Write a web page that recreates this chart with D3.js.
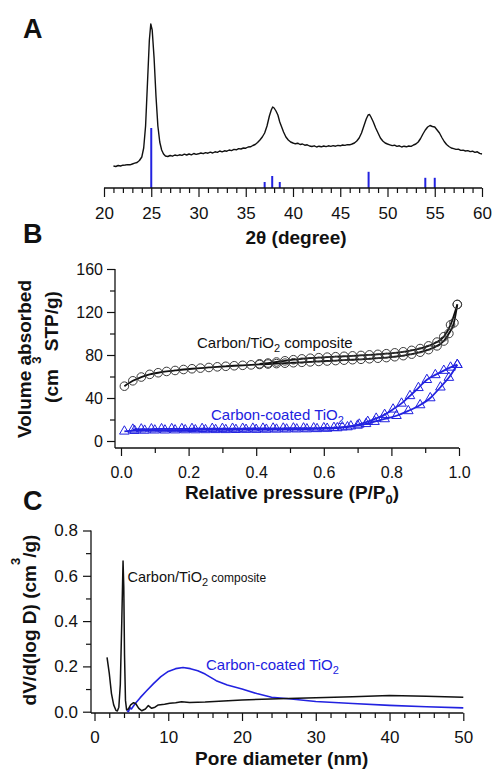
<!DOCTYPE html>
<html><head><meta charset="utf-8">
<script src="https://cdn.jsdelivr.net/npm/d3@7"></script>
<style>
html,body{margin:0;padding:0;background:#fff;}
svg{display:block;}
</style></head><body>
<svg id="chart" width="493" height="772"></svg>
<script>
// ---------- Panel A: XRD ----------
const xrdTheta = [21.00,21.25,21.50,21.75,22.00,22.25,22.50,22.75,23.00,23.25,23.50,23.75,24.00,24.20,24.40,24.60,24.80,24.95,25.10,25.30,25.50,25.70,25.90,26.10,26.30,26.50,26.75,27.00,27.25,27.50,27.75,28.00,28.25,28.50,28.75,29.00,29.25,29.50,29.75,30.00,30.25,30.50,30.75,31.00,31.25,31.50,31.75,32.00,32.25,32.50,32.75,33.00,33.25,33.50,33.75,34.00,34.25,34.50,34.75,35.00,35.25,35.50,35.75,36.00,36.25,36.50,36.75,37.00,37.25,37.50,37.70,37.85,38.00,38.20,38.40,38.60,38.80,39.00,39.25,39.50,39.75,40.00,40.25,40.50,40.75,41.00,41.25,41.50,41.75,42.00,42.25,42.50,42.75,43.00,43.25,43.50,43.75,44.00,44.25,44.50,44.75,45.00,45.25,45.50,45.75,46.00,46.25,46.50,46.75,47.00,47.25,47.50,47.75,47.95,48.10,48.25,48.50,48.75,49.00,49.25,49.50,49.75,50.00,50.25,50.50,50.75,51.00,51.25,51.50,51.75,52.00,52.25,52.50,52.75,53.00,53.25,53.50,53.75,54.00,54.25,54.50,54.75,55.00,55.25,55.50,55.75,56.00,56.25,56.50,56.75,57.00,57.25,57.50,57.75,58.00,58.25,58.50,58.75,59.00,59.25,59.50,59.75,60.00];
const xrdIntensity = [22,21.5,22.5,22,22.8,23,23.4,23.2,24,24.8,25.5,27.5,31,40,62,105,148,164,158,130,92,62,46,38,34,32,31.5,32.5,31.8,33,32.4,33.2,32.6,33.8,33,34,33.2,34.5,33.6,34.2,35,34.3,35.4,34.8,35.8,35,36.2,35.6,37,36.2,37.2,36.8,38,37.4,38.6,38.2,39.4,39,40,39.8,41,41.2,42.5,43.5,45.5,48,51,55,62,72,78,81,80,77,73,66,61,56,51,48,46,45,44.2,44.8,43.5,44,42.8,43.2,42,41.5,42.2,41,41.8,41.2,42,41.4,42.2,41.6,42.4,41.8,42.6,42.2,43,42.6,43.4,43.2,44,45,47,50,55,62,69,73,73.5,71,66,60,55,50,47,45,44,43.2,42.4,42.8,41.6,42.2,41,41.8,41.2,42,41.6,43,44,46,49.5,54,58,61,62.5,61.5,61,58,55,50.5,46.5,43.5,41.5,40,39.4,38.6,38.8,37.6,37.8,37,37.4,36.4,36.8,35.6,36.2,34.6,34];
const stickTheta = [25.0,37.0,37.8,38.6,48.0,54.0,55.0];
const stickRel = [100,10,20,10,27,17,17];
const xrdTicks = [20,25,30,35,40,45,50,55,60];

// ---------- Panel B: N2 isotherms ----------
const compAdsP = [0.010,0.035,0.060,0.085,0.110,0.135,0.160,0.185,0.210,0.235,0.260,0.285,0.310,0.335,0.360,0.385,0.410,0.435,0.460,0.485,0.510,0.535,0.560,0.585,0.610,0.635,0.660,0.685,0.710,0.735,0.760,0.785,0.810,0.835,0.860,0.885,0.910,0.935,0.955,0.970,0.985,0.995];
const compAdsV = [51,56,59.5,62,63.5,64.7,65.6,66.5,67.2,67.8,68.4,69,69.5,70,70.4,70.8,71.2,71.6,72,72.4,72.8,73.2,73.6,74,74.4,74.8,75.2,75.6,76,76.5,77,77.6,78.4,79.4,80.8,82.6,85,88.5,93,100,110,127];
const compDesP = [0.995,0.975,0.955,0.935,0.910,0.885,0.860,0.835,0.810,0.785,0.760,0.735,0.710,0.685,0.660,0.635,0.610,0.585,0.560,0.535,0.510,0.485,0.460,0.435,0.410];
const compDesV = [127,108,97,92,88.5,86,84.3,83,82,81.2,80.6,80.1,79.6,79.2,78.8,78.4,78,77.5,77,76.4,75.6,74.6,73.5,72.5,71.8];
const coatAdsP = [0.010,0.040,0.070,0.100,0.130,0.160,0.190,0.220,0.250,0.280,0.310,0.340,0.370,0.400,0.430,0.460,0.490,0.520,0.550,0.580,0.610,0.640,0.670,0.700,0.725,0.750,0.780,0.815,0.850,0.885,0.915,0.945,0.970,0.995];
const coatAdsV = [9,9.6,9.8,10,10,10.1,10.2,10.2,10.3,10.4,10.4,10.5,10.6,10.6,10.7,10.8,10.9,11,11.1,11.3,11.6,12.1,13,14.5,16,18,20.5,23.5,28,33.5,40,50,59,71];
const coatDesP = [0.995,0.975,0.955,0.930,0.905,0.880,0.855,0.830,0.805,0.780,0.755,0.730,0.705,0.680,0.655,0.630,0.600,0.570,0.540,0.510,0.480,0.450,0.420,0.390,0.360,0.330,0.300,0.270,0.240,0.210,0.180,0.150,0.120,0.090,0.060,0.035];
const coatDesV = [71,68.5,65.5,61.5,57,49.5,42,35,29.5,24.5,21,18,15.5,13.8,12.9,12.4,12.1,12,11.9,11.9,11.8,11.8,11.7,11.7,11.6,11.6,11.5,11.5,11.4,11.4,11.3,11.3,11.2,11.1,11,10.8];
const bxTicks = [0,0.2,0.4,0.6,0.8,1.0];
const byTicks = [0,40,80,120,160];

// ---------- Panel C: pore size distribution ----------
const psdCompD = [1.7,2.0,2.3,2.6,2.9,3.1,3.3,3.5,3.7,3.87,3.97,4.07,4.2,4.35,4.6,4.9,5.3,5.6,6.0,6.4,6.9,7.3,7.75,8.2,8.65,9.5,10.2,11.0,11.8,12.9,15,20,25,30,35,40,45,50];
const psdCompV = [0.24,0.17,0.08,0.03,0.006,0.003,0.02,0.12,0.40,0.665,0.55,0.25,0.05,0.008,0.012,0.03,0.04,0.035,0.015,0.004,0.012,0.027,0.015,0.02,0.03,0.033,0.037,0.04,0.044,0.041,0.043,0.052,0.057,0.062,0.066,0.072,0.068,0.064];
const psdCoatD = [4.4,4.6,4.8,5.0,5.5,6.2,7.0,8.0,9.0,10.0,11.0,12.0,13.0,14.0,15.0,16.5,18.0,20.0,22.0,24.0,26.0,28.0,30.0,35.0,40.0,45.0,50.0];
const psdCoatV = [0.005,0.0,0.018,0.012,0.035,0.062,0.09,0.124,0.155,0.178,0.19,0.195,0.19,0.181,0.166,0.137,0.118,0.1,0.08,0.064,0.058,0.052,0.045,0.036,0.028,0.022,0.017];
const cxTicks = [0,10,20,30,40,50];
const cyTicks = [0,0.2,0.4,0.6,0.8];

// ---------- drawing ----------
const FONT = "'Liberation Sans', Arial, Helvetica, sans-serif";
const INK = "#111";
const BLUE = "#2222e0";
const svg = d3.select("#chart").attr("font-family", FONT);

function styleAxis(g, fs) {
  g.attr("font-family", FONT).attr("font-size", fs);
  g.select(".domain").remove();
  g.selectAll(".tick line").attr("stroke", INK).attr("stroke-width", 1.2);
  g.selectAll(".tick text").attr("fill", INK);
}
function hline(x1, x2, y) {
  svg.append("line").attr("x1", x1).attr("x2", x2).attr("y1", y).attr("y2", y)
    .attr("stroke", INK).attr("stroke-width", 1.3);
}
function vline(x, y1, y2) {
  svg.append("line").attr("x1", x).attr("x2", x).attr("y1", y1).attr("y2", y2)
    .attr("stroke", INK).attr("stroke-width", 1.3);
}
function letter(t, x, y) {
  svg.append("text").attr("x", x).attr("y", y).attr("font-size", 27)
    .attr("font-weight", "bold").attr("fill", INK).text(t);
}

// Panel A
const xA = d3.scaleLinear().domain([20, 60]).range([104, 482]);
const yA = d3.scaleLinear().domain([0, 170]).range([188, 18]);
const yS = d3.scaleLinear().domain([0, 100]).range([188, 128]);
const gA = svg.append("g");
gA.selectAll("line.stick").data(stickTheta).join("line").attr("class", "stick")
  .attr("x1", d => xA(d)).attr("x2", d => xA(d))
  .attr("y1", yS(0)).attr("y2", (d, i) => yS(stickRel[i]))
  .attr("stroke", BLUE).attr("stroke-width", 2);
gA.append("path").datum(d3.zip(xrdTheta, xrdIntensity))
  .attr("d", d3.line().x(d => xA(d[0])).y(d => yA(d[1])))
  .attr("fill", "none").attr("stroke", INK).attr("stroke-width", 1.4).attr("stroke-linejoin", "round");
hline(104, 482, 188);
svg.append("g").attr("transform", "translate(0,188)")
  .call(d3.axisBottom(xA).tickValues(d3.range(20, 61, 1).filter(v => v % 5 !== 0)).tickSize(5).tickFormat(""))
  .call(g => styleAxis(g, 17));
svg.append("g").attr("transform", "translate(0,188)")
  .call(d3.axisBottom(xA).tickValues(xrdTicks).tickSize(9).tickPadding(10).tickFormat(d3.format("d")))
  .call(g => styleAxis(g, 17));
svg.append("text").attr("x", 296).attr("y", 244).attr("text-anchor", "middle")
  .attr("font-size", 19).attr("font-weight", "bold").attr("fill", INK).text("2θ (degree)");
letter("A", 23, 38);

// Panel B
const xB = d3.scaleLinear().domain([0, 1]).range([121, 459]);
const yB = d3.scaleLinear().domain([0, 160]).range([441, 269]);
hline(115, 459, 448);
vline(115, 269, 448);
svg.append("g").attr("transform", "translate(0,448)")
  .call(d3.axisBottom(xB).tickValues([0.1, 0.3, 0.5, 0.7, 0.9]).tickSize(5).tickFormat(""))
  .call(g => styleAxis(g, 16));
svg.append("g").attr("transform", "translate(0,448)")
  .call(d3.axisBottom(xB).tickValues(bxTicks).tickSize(8).tickPadding(10.5).tickFormat(d3.format(".1f")))
  .call(g => styleAxis(g, 16));
svg.append("g").attr("transform", "translate(115,0)")
  .call(d3.axisLeft(yB).tickValues([20, 60, 100, 140]).tickSize(5).tickFormat(""))
  .call(g => styleAxis(g, 16));
svg.append("g").attr("transform", "translate(115,0)")
  .call(d3.axisLeft(yB).tickValues(byTicks).tickSize(8).tickPadding(4).tickFormat(d3.format("d")))
  .call(g => styleAxis(g, 16));

const lineB = d3.line().x(d => xB(d[0])).y(d => yB(d[1])).curve(d3.curveMonotoneX);
const compAds = d3.zip(compAdsP, compAdsV), compDes = d3.zip(compDesP, compDesV);
const coatAds = d3.zip(coatAdsP, coatAdsV), coatDes = d3.zip(coatDesP, coatDesV);
const gB = svg.append("g");
[coatAds, coatDes].forEach(s => {
  gB.append("path").datum(s.slice().sort((a, b) => a[0] - b[0])).attr("d", lineB)
    .attr("fill", "none").attr("stroke", BLUE).attr("stroke-width", 1.8);
});
const tri = d3.symbol(d3.symbolTriangle).size(40)();
gB.selectAll("path.tri").data(coatAds.concat(coatDes)).join("path").attr("class", "tri")
  .attr("d", tri).attr("transform", d => `translate(${xB(d[0])},${yB(d[1])})`)
  .attr("fill", "none").attr("stroke", BLUE).attr("stroke-width", 1);
[compAds, compDes].forEach(s => {
  gB.append("path").datum(s.slice().sort((a, b) => a[0] - b[0])).attr("d", lineB)
    .attr("fill", "none").attr("stroke", INK).attr("stroke-width", 1.8);
});
gB.selectAll("circle.c").data(compAds.concat(compDes)).join("circle").attr("class", "c")
  .attr("cx", d => xB(d[0])).attr("cy", d => yB(d[1])).attr("r", 4.3)
  .attr("fill", "none").attr("stroke", "#3a3a3a").attr("stroke-width", 1);

// labels B
const tB1 = svg.append("text").attr("x", 197).attr("y", 348).attr("font-size", 15).attr("fill", INK);
tB1.append("tspan").text("Carbon/TiO");
tB1.append("tspan").attr("font-size", 11).attr("dy", 4).text("2");
tB1.append("tspan").attr("dy", -4).text(" composite");
const tB2 = svg.append("text").attr("x", 211).attr("y", 420).attr("font-size", 15).attr("fill", BLUE);
tB2.append("tspan").text("Carbon-coated TiO");
tB2.append("tspan").attr("font-size", 11).attr("dy", 4).text("2");

svg.append("text").attr("transform", "translate(31,359) rotate(-90)").attr("text-anchor", "middle")
  .attr("font-size", 19).attr("font-weight", "bold").attr("fill", INK).text("Volume absorbed");
const yt2 = svg.append("text").attr("transform", "translate(58,347) rotate(-90)").attr("text-anchor", "middle")
  .attr("font-size", 19).attr("font-weight", "bold").attr("fill", INK);
yt2.append("tspan").text("(cm ");
yt2.append("tspan").attr("font-size", 13).attr("dy", -17).text("3");
yt2.append("tspan").attr("dy", 17).text(" STP/g)");

const xtB = svg.append("text").attr("x", 292).attr("y", 499).attr("text-anchor", "middle")
  .attr("font-size", 19).attr("font-weight", "bold").attr("fill", INK);
xtB.append("tspan").text("Relative pressure (P/P");
xtB.append("tspan").attr("font-size", 13).attr("dy", 5).text("0");
xtB.append("tspan").attr("dy", -5).text(")");
letter("B", 23, 243);

// Panel C
const xC = d3.scaleLinear().domain([0, 50]).range([94.5, 463.3]);
const yC = d3.scaleLinear().domain([0, 0.8]).range([711.7, 530.5]);
hline(91, 463.3, 713);
vline(91, 530.5, 713);
svg.append("g").attr("transform", "translate(0,713)")
  .call(d3.axisBottom(xC).tickValues(d3.range(2, 50, 2).filter(v => v % 10 !== 0)).tickSize(5).tickFormat(""))
  .call(g => styleAxis(g, 17));
svg.append("g").attr("transform", "translate(0,713)")
  .call(d3.axisBottom(xC).tickValues(cxTicks).tickSize(8).tickPadding(9.5).tickFormat(d3.format("d")))
  .call(g => styleAxis(g, 17));
svg.append("g").attr("transform", "translate(91,0)")
  .call(d3.axisLeft(yC).tickValues([0.1, 0.3, 0.5, 0.7]).tickSize(5).tickFormat(""))
  .call(g => styleAxis(g, 17));
svg.append("g").attr("transform", "translate(91,0)")
  .call(d3.axisLeft(yC).tickValues(cyTicks).tickSize(8).tickPadding(5).tickFormat(d3.format(".1f")))
  .call(g => styleAxis(g, 17));

const lineC = d3.line().x(d => xC(d[0])).y(d => yC(d[1]));
svg.append("path").datum(d3.zip(psdCoatD, psdCoatV)).attr("d", lineC)
  .attr("fill", "none").attr("stroke", BLUE).attr("stroke-width", 1.6).attr("stroke-linejoin", "round");
svg.append("path").datum(d3.zip(psdCompD, psdCompV)).attr("d", lineC)
  .attr("fill", "none").attr("stroke", INK).attr("stroke-width", 1.5).attr("stroke-linejoin", "round");

const tC1 = svg.append("text").attr("x", 127.5).attr("y", 582).attr("font-size", 14.5).attr("fill", INK);
tC1.append("tspan").text("Carbon/TiO");
tC1.append("tspan").attr("font-size", 11).attr("dy", 4).text("2");
tC1.append("tspan").attr("font-size", 12).attr("dy", -4).text(" composite");
const tC2 = svg.append("text").attr("x", 206).attr("y", 670).attr("font-size", 15).attr("fill", BLUE);
tC2.append("tspan").text("Carbon-coated TiO");
tC2.append("tspan").attr("font-size", 11).attr("dy", 4).text("2");

const ytC = svg.append("text").attr("transform", "translate(36,620) rotate(-90)").attr("text-anchor", "middle")
  .attr("font-size", 19).attr("font-weight", "bold").attr("fill", INK);
ytC.append("tspan").text("dV/d(log D) (cm");
ytC.append("tspan").attr("font-size", 13).attr("dy", -16).text("3");
ytC.append("tspan").attr("dy", 16).text("/g)");
svg.append("text").attr("x", 281.7).attr("y", 765).attr("text-anchor", "middle")
  .attr("font-size", 19).attr("font-weight", "bold").attr("fill", INK).text("Pore diameter (nm)");
letter("C", 23, 510);
</script>
</body></html>
